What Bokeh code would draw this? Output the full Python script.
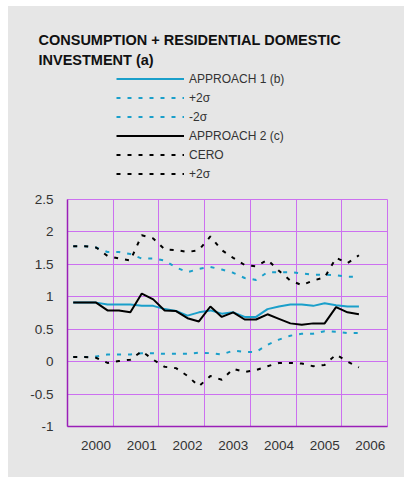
import numpy as np
from bokeh.plotting import figure
from bokeh.layouts import column
from bokeh.models import (ColumnDataSource, FixedTicker, Legend, LegendItem, Label)
from bokeh.embed import file_html
from bokeh.resources import INLINE

# ---------------- data (quarterly, 2000Q1 .. 2006Q2) ----------------
years = ["2000", "2001", "2002", "2003", "2004", "2005", "2006"]
quarter_index = list(range(26))

approach1 = [0.91, 0.91, 0.91, 0.88, 0.88, 0.88, 0.86, 0.86, 0.81, 0.78, 0.71, 0.76, 0.79,
             0.74, 0.76, 0.69, 0.69, 0.81, 0.85, 0.88, 0.88, 0.86, 0.90, 0.87, 0.85, 0.85]
approach1_up = [1.78, 1.78, 1.76, 1.69, 1.69, 1.66, 1.59, 1.59, 1.56, 1.45, 1.38, 1.43, 1.46,
                1.42, 1.37, 1.29, 1.26, 1.38, 1.38, 1.38, 1.36, 1.34, 1.34, 1.33, 1.31, 1.31]
approach1_lo = [0.07, 0.07, 0.08, 0.11, 0.11, 0.11, 0.13, 0.13, 0.12, 0.12, 0.12, 0.14, 0.13,
                0.11, 0.17, 0.15, 0.15, 0.26, 0.34, 0.40, 0.43, 0.43, 0.47, 0.46, 0.44, 0.44]
approach2 = [0.91, 0.91, 0.91, 0.79, 0.79, 0.76, 1.05, 0.96, 0.79, 0.78, 0.67, 0.62, 0.85,
             0.69, 0.76, 0.65, 0.65, 0.73, 0.66, 0.59, 0.57, 0.59, 0.59, 0.84, 0.76, 0.73]
approach2_up = [1.78, 1.78, 1.76, 1.63, 1.59, 1.56, 1.95, 1.90, 1.73, 1.72, 1.69, 1.72, 1.93,
                1.72, 1.60, 1.49, 1.47, 1.57, 1.40, 1.25, 1.18, 1.25, 1.30, 1.60, 1.52, 1.64]
approach2_lo = [0.07, 0.07, 0.06, -0.02, 0.01, 0.03, 0.16, 0.03, -0.08, -0.10, -0.22, -0.38, -0.22,
                -0.28, -0.11, -0.16, -0.13, -0.07, -0.02, -0.02, -0.03, -0.07, -0.05, 0.11, 0.0, -0.09]

y_ticks = [-1, -0.5, 0, 0.5, 1, 1.5, 2, 2.5]
y_tick_labels = ["-1", "-0.5", "0", "0.5", "1", "1.5", "2", "2.5"]

legend_labels = ["APPROACH 1 (b)", "+2σ", "-2σ", "APPROACH 2 (c)", "CERO", "+2σ"]
title_lines = ["CONSUMPTION + RESIDENTIAL DOMESTIC", "INVESTMENT (a)"]

# ---------------- styling ----------------
FONT = "Liberation Sans"
CYAN = "#1a9fca"
BLACK = "#000000"
GRID = "#cc70f0"
AXIS = "#9a1fb8"
BG = "#e6e6e6"
TXT = "#333333"
DASH = "4 7"

styles = [dict(color=CYAN, line_width=2),
          dict(color=CYAN, line_width=2, line_dash=DASH),
          dict(color=CYAN, line_width=2, line_dash=DASH),
          dict(color=BLACK, line_width=2),
          dict(color=BLACK, line_width=2, line_dash=DASH),
          dict(color=BLACK, line_width=2, line_dash=DASH)]

x = [q + 0.5 for q in quarter_index]
src = ColumnDataSource(dict(x=x, a1=approach1, a1u=approach1_up, a1l=approach1_lo,
                            a2=approach2, a2u=approach2_up, a2l=approach2_lo))

# ---------------- header: title + legend ----------------
top = figure(width=396, height=185, output_backend="svg", toolbar_location=None,
             x_range=(0, 1), y_range=(0, 1), x_axis_type=None, y_axis_type=None,
             min_border=0, min_border_left=0, min_border_right=0, min_border_top=0,
             min_border_bottom=0, background_fill_color=BG, border_fill_color=BG,
             outline_line_color=None)
top.frame_align = False
top.grid.visible = False
proxies = [top.line(x=[float("nan")], y=[float("nan")], **s) for s in styles]
legend = Legend(items=[LegendItem(label=l, renderers=[r]) for l, r in zip(legend_labels, proxies)],
                location=(108, 8), padding=0, margin=0, spacing=0,
                glyph_width=68, glyph_height=19, label_height=19, label_standoff=5,
                label_text_font=FONT, label_text_font_size="12px", label_text_color=TXT,
                border_line_alpha=0, background_fill_alpha=0)
top.add_layout(legend, "center")
for i, t in enumerate(title_lines):
    top.add_layout(Label(x=30, y=152 - 20 * i, x_units="screen", y_units="screen", text=t,
                         text_font=FONT, text_font_size="14.5px", text_font_style="bold",
                         text_color="#111111", text_baseline="alphabetic"))

# ---------------- chart ----------------
p = figure(width=396, height=286, output_backend="svg", toolbar_location=None,
           x_range=(0, 28), y_range=(-1, 2.5),
           min_border_left=59, min_border_right=17, min_border_top=8, min_border_bottom=51,
           background_fill_color=BG, border_fill_color=BG, outline_line_color=GRID,
           outline_line_width=1)
p.frame_align = False

r_a1u = p.line("x", "a1u", source=src, **styles[1])
r_a1l = p.line("x", "a1l", source=src, **styles[2])
r_a2u = p.line("x", "a2u", source=src, **styles[5])
r_a2l = p.line("x", "a2l", source=src, **styles[4])
r_a1 = p.line("x", "a1", source=src, **styles[0])
r_a2 = p.line("x", "a2", source=src, **styles[3])

p.xaxis.ticker = FixedTicker(ticks=[4 * i + 2.5 for i in range(len(years))])
p.xaxis.major_label_overrides = {4 * i + 2.5: y for i, y in enumerate(years)}
p.yaxis.ticker = FixedTicker(ticks=y_ticks)
p.yaxis.major_label_overrides = {t: l for t, l in zip(y_ticks, y_tick_labels)}
for ax in (p.xaxis, p.yaxis):
    ax.axis_line_color = AXIS
    ax.axis_line_width = 1.5
    ax.major_tick_line_color = None
    ax.minor_tick_line_color = None
    ax.major_label_text_font = FONT
    ax.major_label_text_font_size = "13.5px"
    ax.major_label_text_color = TXT
p.xaxis.major_label_standoff = 8
p.yaxis.major_label_standoff = 8

p.xgrid.ticker = FixedTicker(ticks=[4 * i for i in range(1, 7)])
p.ygrid.ticker = FixedTicker(ticks=y_ticks)
for g in (p.xgrid, p.ygrid):
    g.grid_line_color = GRID
    g.grid_line_width = 1

layout = column(top, p, spacing=0)
layout.margin = (6, 0, 0, 8)
layout.styles = {"background-color": BG}

open("out.html", "w").write(file_html(layout, INLINE))
